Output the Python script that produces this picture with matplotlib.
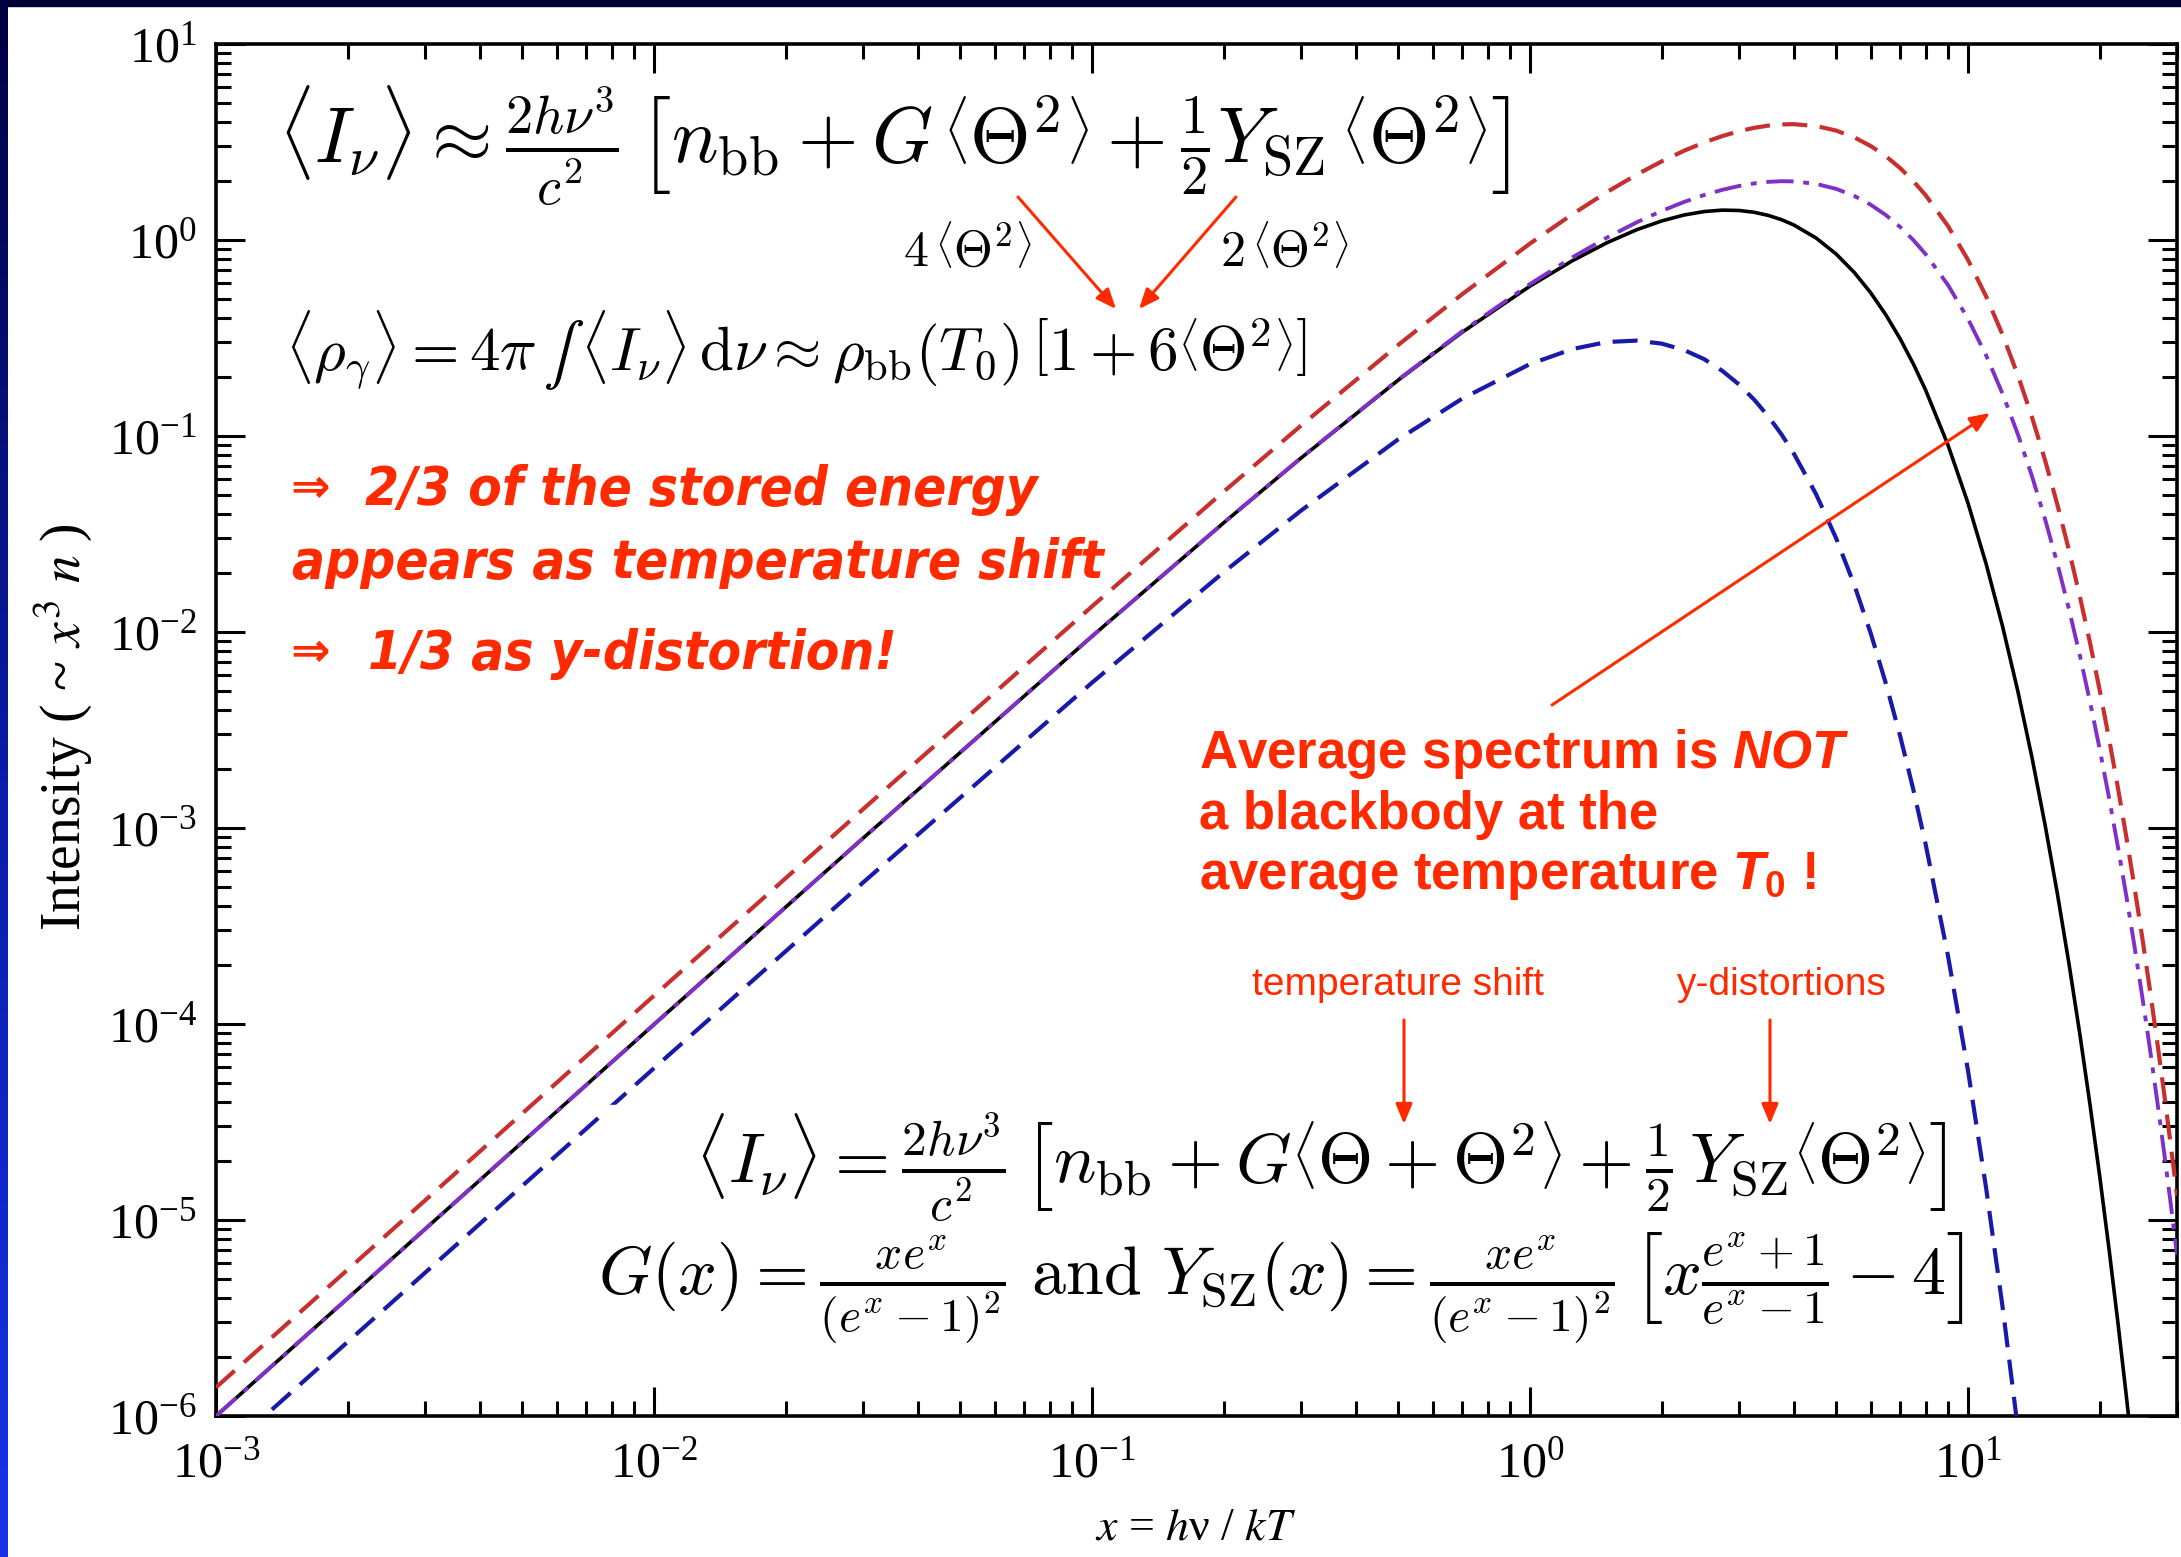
import os
import numpy as np
import matplotlib
matplotlib.use("Agg")
import matplotlib.pyplot as plt
from matplotlib import font_manager as fm
from matplotlib.ticker import LogLocator, LogFormatterMathtext, NullFormatter
from matplotlib.patches import Rectangle, FancyArrowPatch

# ---------------------------------------------------------
# Data  (x = h nu / kT,  intensity ~ x^3 n)
# ---------------------------------------------------------
# black solid: blackbody at T0
x_black = [0.001, 0.01, 0.03, 0.1, 0.2, 0.3, 0.5, 0.7, 1.0, 1.25, 1.5, 1.75, 2.0, 2.25,
           2.5, 2.75, 3.0, 3.25, 3.5, 3.75, 4.0, 4.5, 5.0, 5.5, 6.0, 6.5, 7.0, 7.5, 8.0,
           9.0, 10.0, 11.0, 12.0, 13.0, 14.0, 15.0, 16.0, 17.0, 18.0, 19.0, 20.0, 21.0,
           22.0, 23.0, 24.0]
y_black = [9.995e-7, 9.950e-5, 8.866e-4, 9.508e-3, 0.03613, 0.07717, 0.1927, 0.3383,
           0.5820, 0.78428, 0.9694, 1.12720, 1.2521, 1.34201, 1.3973, 1.42030, 1.4147,
           1.38474, 1.3350, 1.27006, 1.1941, 1.02368, 0.8480, 0.68272, 0.5367, 0.41350,
           0.3131, 0.23346, 0.1718, 0.089977, 0.04540, 0.022230, 0.010617, 4.9659e-3,
           2.282e-3, 1.03242e-3, 4.609e-4, 2.03395e-4, 8.882e-5, 3.84297e-5, 1.649e-5,
           7.0222e-6, 2.970e-6, 1.24856e-6, 5.219e-7]

# red dashed (hotter) and purple dash-dot (average), same x grid
x_hot = [0.001, 0.01, 0.03, 0.1, 0.2, 0.3, 0.5, 0.7, 1.0, 1.25, 1.5, 1.75, 2.0, 2.25,
         2.5, 2.75, 3.0, 3.25, 3.5, 3.75, 4.0, 4.5, 5.0, 5.5, 6.0, 6.5, 7.0, 7.5, 8.0,
         9.0, 10.0, 11.0, 12.0, 13.0, 14.0, 15.0, 16.0, 17.0, 18.0, 19.0, 20.0, 21.0,
         22.0, 23.0, 24.0, 25.0, 26.0, 27.0, 28.0, 29.0, 30.0]
y_hot = [1.3995e-6, 1.3950e-4, 1.2465e-3, 0.013506, 0.052095, 0.11298, 0.29123, 0.52873,
         0.95902, 1.35437, 1.7582, 2.15206, 2.5213, 2.85584, 3.1479, 3.39274, 3.5886,
         3.73529, 3.8341, 3.88775, 3.8997, 3.81507, 3.6159, 3.33856, 3.0143, 2.67040,
         2.3268, 1.99829, 1.6944, 1.17906, 0.79108, 0.515268, 0.32740, 0.203768, 0.12458,
         0.075011, 0.044566, 0.026168, 0.015206, 8.7552e-3, 4.9990e-3, 2.8330e-3,
         1.5946e-3, 8.9196e-4, 4.9612e-4, 2.7451e-4, 1.5117e-4, 8.2873e-5, 4.5246e-5,
         2.4609e-5, 1.3337e-5]
y_avg = [9.995e-7, 9.950e-5, 8.8656e-4, 9.5100e-3, 0.036159, 0.077301, 0.19366, 0.34192,
         0.59594, 0.816075, 1.0300, 1.229334, 1.4086, 1.565087, 1.6971, 1.803748, 1.8859,
         1.944227, 1.9800, 1.994874, 1.9906, 1.932749, 1.8230, 1.677971, 1.5121, 1.337909,
         1.1649, 0.999931, 0.84761, 0.589642, 0.39557, 0.257641, 0.16370, 0.101884,
         0.06229, 0.0375055, 0.022283, 0.013084, 7.603e-3, 4.3776e-3, 2.4995e-3, 1.4165e-3,
         7.973e-4, 4.4598e-4, 2.4806e-4, 1.37255e-4, 7.5585e-5, 4.1437e-5, 2.2623e-5,
         1.23045e-5, 6.6685e-6]

# blue dashed (colder)
x_cold = [0.001, 0.01, 0.03, 0.1, 0.2, 0.3, 0.5, 0.7, 1.0, 1.25, 1.5, 1.75, 2.0, 2.25,
          2.5, 2.75, 3.0, 3.25, 3.5, 3.75, 4.0, 4.5, 5.0, 5.5, 6.0, 6.5, 7.0, 7.5, 8.0,
          9.0, 10.0, 11.0, 12.0, 13.0]
y_cold = [5.995e-7, 5.950e-5, 5.2661e-4, 5.5139e-3, 0.020222, 0.041621, 0.096082, 0.15511,
          0.23286, 0.277780, 0.30181, 0.306608, 0.29595, 0.274333, 0.24639, 0.214755,
          0.18316, 0.153164, 0.12592, 0.101998, 0.081515, 0.050428, 0.030053, 0.017382,
          9.8068e-3, 5.4187e-3, 2.9412e-3, 1.57219e-3, 8.2923e-4, 2.2301e-4, 5.7777e-5,
          1.4525e-5, 3.5617e-6, 8.553e-7]

# ---------------------------------------------------------
# Fonts / style
# ---------------------------------------------------------
W, H = 2181, 1557
RED = "#ff2a00"

plt.rcParams["font.family"] = ["Liberation Serif", "DejaVu Serif"]
plt.rcParams["mathtext.fontset"] = "stix"
plt.rcParams["mathtext.rm"] = "Liberation Sans:bold"
plt.rcParams["mathtext.it"] = "Liberation Sans:bold:italic"
plt.rcParams["mathtext.bf"] = "Liberation Sans:bold"


def find_font(files):
    have = {os.path.basename(f.fname).lower(): f.fname for f in fm.fontManager.ttflist}
    for name in files:
        if name.lower() in have:
            return have[name.lower()]
    return None


narrow_file = find_font(["LiberationSansNarrow-BoldItalic.ttf",
                         "DejaVuSansCondensed-BoldOblique.ttf"])


def red_font(size):
    if narrow_file:
        return fm.FontProperties(fname=narrow_file, size=size)
    return fm.FontProperties(family="Liberation Sans", weight="bold", style="italic",
                             size=size)


def fx(px):
    return px / W


def fy(py):
    return 1 - py / H


fig = plt.figure(figsize=(W / 100, H / 100), dpi=100)
fig.patch.set_facecolor("white")
renderer = fig.canvas.get_renderer()

# slide frame: dark band on top, blue gradient on the left
fig.add_artist(Rectangle((0, fy(6)), 1, 6 / H, transform=fig.transFigure,
                         color="#000033", zorder=0))
band = fig.add_axes([0, 0, 8 / W, 1])
grad = np.linspace(0, 1, 256).reshape(-1, 1)
band.imshow(grad, aspect="auto", origin="lower",
            cmap=matplotlib.colors.LinearSegmentedColormap.from_list(
                "frame", ["#1434e6", "#0a1ca8", "#000040"]))
band.axis("off")

ax = fig.add_axes([fx(216), fy(1416), fx(2177) - fx(216), fy(44) - fy(1416)])

# ---------------------------------------------------------
# Curves
# ---------------------------------------------------------
ax.plot(x_hot, y_hot, color="#c83030", lw=3.0, dashes=(6, 3), zorder=3)
ax.plot(x_cold, y_cold, color="#1a1aa8", lw=3.0, dashes=(6, 3), zorder=3)
ax.plot(x_black, y_black, color="black", lw=2.6, zorder=3)
ax.plot(x_hot, y_avg, color="#8030c8", lw=2.8, dashes=(7, 2.5, 1.5, 2.5), zorder=4)

ax.set_xscale("log")
ax.set_yscale("log")
ax.set_xlim(1e-3, 30)
ax.set_ylim(1e-6, 10)

for a in (ax.xaxis, ax.yaxis):
    a.set_major_locator(LogLocator(base=10, numticks=20))
    a.set_minor_locator(LogLocator(base=10, subs=np.arange(2, 10), numticks=20))
    a.set_minor_formatter(NullFormatter())
    a.set_major_formatter(LogFormatterMathtext())

ax.tick_params(which="both", direction="in", top=True, right=True, width=2.2,
               labelsize=36, colors="black")
ax.tick_params(which="major", length=21)
ax.tick_params(which="minor", length=11)
ax.tick_params(axis="x", which="major", pad=18)
ax.tick_params(axis="y", which="major", pad=14)
for s in ax.spines.values():
    s.set_linewidth(2.6)

fig.text(fx(63), fy(727), r"Intensity ( ~ $x^3$ $n$ )", rotation=90, fontsize=40,
         ha="center", va="center")
fig.text(fx(1196), fy(1528), r"$x$ = $h$ν / $kT$", fontsize=33, ha="center", va="center")

# ---------------------------------------------------------
# Formulas
# ---------------------------------------------------------
top_eq = (r"$\langle I_\nu\rangle \approx \frac{2h\nu^3}{c^2}\,\left[n_\mathrm{bb} + "
          r"G\,\left\langle\Theta^2\right\rangle + \frac{1}{2}Y_\mathrm{SZ}\,"
          r"\left\langle\Theta^2\right\rangle\right]$")
fig.text(fx(278), fy(146), top_eq, fontsize=56, math_fontfamily="cm", va="center", zorder=6)

fig.text(fx(903), fy(252), r"$4\,\left\langle\Theta^2\right\rangle$", fontsize=36,
         math_fontfamily="cm", va="center")
fig.text(fx(1220), fy(252), r"$2\,\left\langle\Theta^2\right\rangle$", fontsize=36,
         math_fontfamily="cm", va="center")

rho_tail = (r"\langle I_\nu\rangle\,\mathrm{d}\nu \approx \rho_\mathrm{bb}(T_0)\,"
            r"\left[1 + 6\left\langle\Theta^2\right\rangle\right]$")
rho_txt = fig.text(fx(285), fy(350),
                   r"$\langle\rho_\gamma\rangle = 4\pi\,∫\," + rho_tail,
                   fontsize=44, math_fontfamily="cm", va="center")
try:
    rho_txt.get_window_extent(renderer)
except Exception:
    rho_txt.set_text(r"$\langle\rho_\gamma\rangle = 4\pi\int" + rho_tail)

bot_eq1 = (r"$\langle I_\nu\rangle = \frac{2h\nu^3}{c^2}\,\left[n_\mathrm{bb} + "
           r"G\left\langle\Theta+\Theta^2\right\rangle + \frac{1}{2}\,Y_\mathrm{SZ}"
           r"\left\langle\Theta^2\right\rangle\right]$")
bot_eq2 = (r"$G(x) = \frac{xe^x}{(e^x-1)^2}\ \mathrm{and}\ Y_\mathrm{SZ}(x) = "
           r"\frac{xe^x}{(e^x-1)^2}\,\left[x\frac{e^x+1}{e^x-1} - 4\right]$")
fig.add_artist(Rectangle((fx(605), fy(1350)), fx(1962) - fx(605), (1350 - 1105) / H,
                         transform=fig.transFigure, color="white", zorder=5))
fig.text(fx(695), fy(1168), bot_eq1, fontsize=51, math_fontfamily="cm", va="center", zorder=6)
fig.text(fx(598), fy(1288), bot_eq2, fontsize=49, math_fontfamily="cm", va="center", zorder=6)

# ---------------------------------------------------------
# Red annotations
# ---------------------------------------------------------
# size the condensed italic lines so "appears as temperature shift" is ~810 px wide
probe = fig.text(0, 0, "appears as temperature shift", fontproperties=red_font(40))
red_size = 40 * 810 / probe.get_window_extent(renderer).width
probe.remove()
red_size = min(red_size, 46)

for txt, px, py in [("2/3 of the stored energy", 365, 490),
                    ("appears as temperature shift", 292, 563),
                    ("1/3 as y-distortion!", 368, 654)]:
    fig.text(fx(px), fy(py), txt, color=RED, fontproperties=red_font(red_size),
             va="center")
for py in [490, 654]:
    fig.text(fx(290), fy(py), "⇒", color=RED, fontsize=34, family="DejaVu Sans",
             fontweight="bold", va="center")

avg_lines = [r"Average spectrum is $\mathit{NOT}$", "a blackbody at the",
             r"average temperature $\mathit{T}_\mathrm{0}$ !"]
for txt, py in zip(avg_lines, [754, 815, 876]):
    fig.text(fx(1199), fy(py), txt, color=RED, fontsize=38, family="Liberation Sans",
             fontweight="bold", math_fontfamily="custom", va="center")

fig.text(fx(1398), fy(985), "temperature shift", color=RED, fontsize=28,
         family="Liberation Sans", ha="center", va="center")
fig.text(fx(1782), fy(985), "y-distortions", color=RED, fontsize=28,
         family="Liberation Sans", ha="center", va="center")

arrows = [((1018, 197), (1116, 309)), ((1236, 197), (1139, 309)),
          ((1552, 705), (1990, 413)), ((1404, 1020), (1404, 1124)),
          ((1770, 1020), (1770, 1124))]
for (x0, y0), (x1, y1) in arrows:
    fig.add_artist(FancyArrowPatch(
        (fx(x0), fy(y0)), (fx(x1), fy(y1)), transform=fig.transFigure,
        arrowstyle="-|>,head_length=12,head_width=5", color=RED, lw=2.2,
        shrinkA=0, shrinkB=0, zorder=7))

fig.savefig("out.png", dpi=100, facecolor=fig.get_facecolor())
